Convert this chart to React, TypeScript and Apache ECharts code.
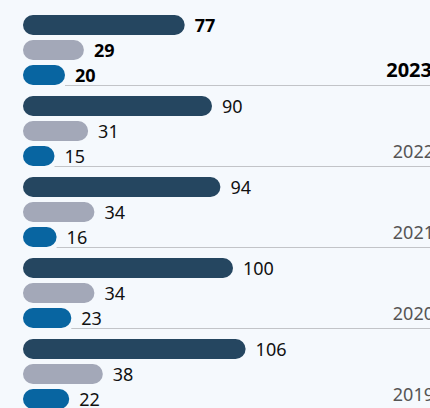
import React, { useEffect, useRef } from "react";
import * as echarts from "echarts";

const years = ["2023", "2022", "2021", "2020", "2019"];
const seriesA = [77, 90, 94, 100, 106];
const seriesB = [29, 31, 34, 34, 38];
const seriesC = [20, 15, 16, 23, 22];

const colors = ["#254660", "#a3a8b8", "#0865a1"];
const BAR = 20;
const GAP = 5;
const FONT = "'Noto Sans', sans-serif";

function mkData(vals: number[]) {
  return vals.map((v, i) =>
    i === 0
      ? { value: v, label: { fontWeight: "bold", color: "#000" } }
      : { value: v }
  );
}

export default function App() {
  const ref = useRef<HTMLDivElement>(null);
  useEffect(() => {
    document.body.style.margin = "0";
    const chart = echarts.init(ref.current!, null, { renderer: "svg" });
    const barSeries = [seriesA, seriesB, seriesC].map((vals, k) => ({
      type: "bar",
      data: mkData(vals),
      barWidth: BAR,
      barGap: "25%",
      itemStyle: { color: colors[k], borderRadius: 10 },
      label: {
        show: true,
        position: "right",
        distance: 10,
        fontFamily: FONT,
        fontSize: 18,
        color: "#111",
      },
      z: 3,
    }));
    chart.setOption({
      animation: false,
      backgroundColor: "#f5f9fd",
      grid: { left: 23, top: 9.5, width: 420, height: 405, outerBoundsMode: "none", containLabel: false },
      xAxis: { type: "value", min: 0, max: 200, show: false },
      yAxis: { type: "category", data: years, inverse: true, show: false },
      series: [
        ...barSeries,
        {
          type: "custom",
          silent: true,
          z: 1,
          data: years.map((y, i) => [seriesC[i], y]),
          encode: { x: 0, y: 1 },
          renderItem: (params: any, api: any) => {
            const i = params.dataIndex;
            const p = api.coord([api.value(0), api.value(1)]);
            const lineY = Math.round(p[1] + 1.5 * BAR + GAP) + 0.5;
            const bold = i === 0;
            return {
              type: "group",
              children: [
                {
                  type: "line",
                  shape: { x1: p[0], y1: lineY, x2: 440, y2: lineY },
                  style: { stroke: "#c2c4c8", lineWidth: 1 },
                },
                {
                  type: "text",
                  style: {
                    text: years[i],
                    x: bold ? 432 : 434,
                    y: lineY - 16,
                    align: "right",
                    verticalAlign: "middle",
                    font: `${bold ? "bold 20px" : "18px"} ${FONT}`,
                    fill: bold ? "#000" : "#555",
                  },
                },
              ],
            };
          },
        },
      ],
    });
    return () => chart.dispose();
  }, []);
  return <div ref={ref} style={{ width: 430, height: 408 }} />;
}
